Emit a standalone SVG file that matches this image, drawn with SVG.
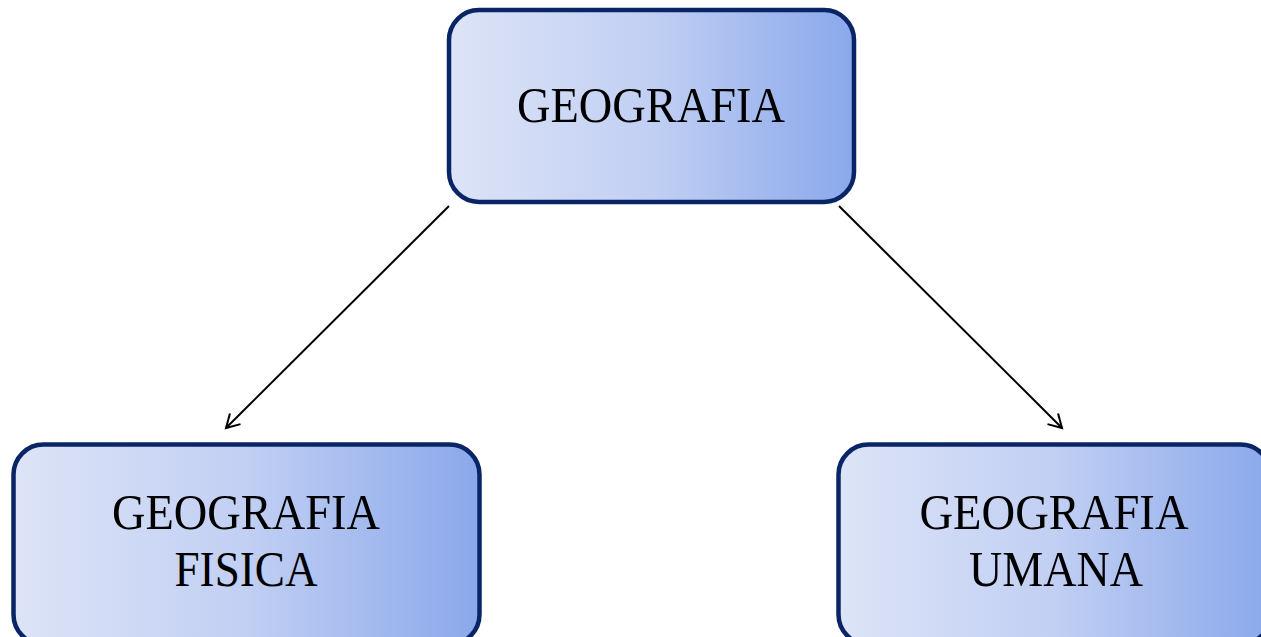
<svg xmlns="http://www.w3.org/2000/svg" width="1261" height="637" viewBox="0 0 1261 637">
<defs>
<linearGradient id="g" x1="0" y1="0" x2="1" y2="0">
<stop offset="0" stop-color="#dde4f7"/>
<stop offset="0.5" stop-color="#c1cff3"/>
<stop offset="1" stop-color="#8aa8eb"/>
</linearGradient>
<marker id="arr" markerWidth="18" markerHeight="18" refX="15" refY="9" orient="auto" markerUnits="userSpaceOnUse">
<path d="M2,1.5 L15,9 L2,16.5" fill="none" stroke="#000" stroke-width="2"/>
</marker>
<style>
.box{fill:url(#g);stroke:#0a2566;stroke-width:4.5}
.t{font-family:"Liberation Serif",serif;font-size:51px;fill:#000;text-anchor:middle}
.c{stroke:#000;stroke-width:2;fill:none}
</style>
</defs>
<g id="connectors">
<line class="c" x1="449" y1="206" x2="226" y2="428" marker-end="url(#arr)"/>
<line class="c" x1="839" y1="206" x2="1062" y2="428" marker-end="url(#arr)"/>
</g>
<g id="geografia">
<rect class="box" x="449" y="10" width="405" height="192" rx="30"/>
<text class="t" x="651" y="122" textLength="268" lengthAdjust="spacingAndGlyphs">GEOGRAFIA</text>
</g>
<g id="geografia-fisica">
<rect class="box" x="13.5" y="444.5" width="466" height="200" rx="30"/>
<text class="t" x="246" y="529" textLength="268" lengthAdjust="spacingAndGlyphs">GEOGRAFIA</text>
<text class="t" x="246" y="586" textLength="143" lengthAdjust="spacingAndGlyphs">FISICA</text>
</g>
<g id="geografia-umana">
<rect class="box" x="838.5" y="444.5" width="432" height="200" rx="30"/>
<text class="t" x="1054" y="529" textLength="269" lengthAdjust="spacingAndGlyphs">GEOGRAFIA</text>
<text class="t" x="1056" y="586" textLength="174" lengthAdjust="spacingAndGlyphs">UMANA</text>
</g>
</svg>
